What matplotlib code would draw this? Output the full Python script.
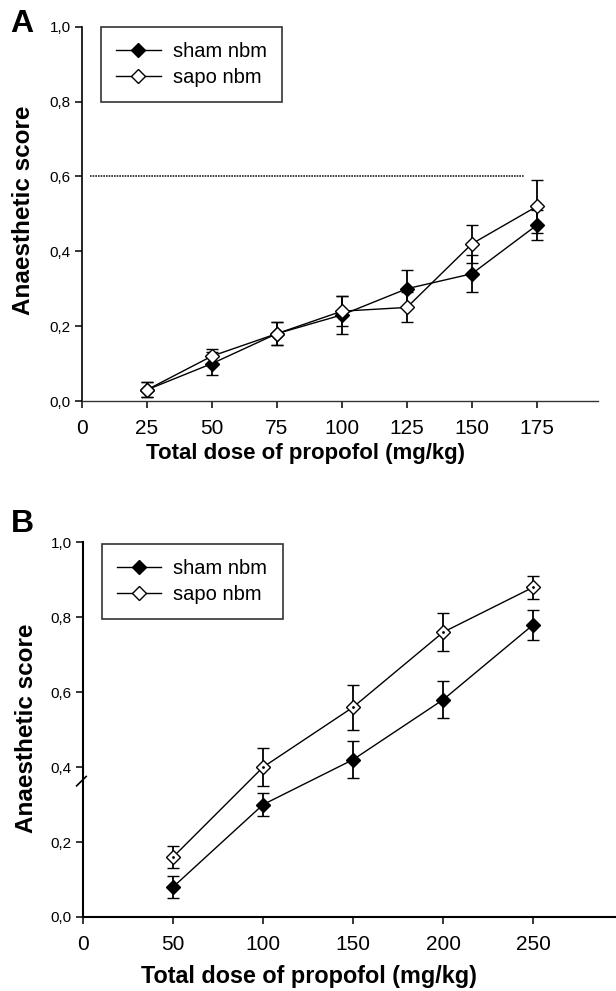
import numpy as np
import matplotlib
matplotlib.use('Agg')
import matplotlib.pyplot as plt
from matplotlib.lines import Line2D

plt.rcParams['font.family'] = ['Liberation Sans', 'DejaVu Sans']

## panel A: dose 25..175 mg/kg
dose_a = [25, 50, 75, 100, 125, 150, 175]
sham_a = [0.03, 0.10, 0.18, 0.23, 0.30, 0.34, 0.47]
sham_a_err = [0.02, 0.03, 0.03, 0.05, 0.05, 0.05, 0.04]
sapo_a = [0.03, 0.12, 0.18, 0.24, 0.25, 0.42, 0.52]
sapo_a_err = [0.02, 0.02, 0.03, 0.04, 0.04, 0.05, 0.07]
ref_level = 0.6
ref_span = [3, 170]

## panel B: dose 50..250 mg/kg
dose_b = [50, 100, 150, 200, 250]
sham_b = [0.08, 0.30, 0.42, 0.58, 0.78]
sham_b_err = [0.03, 0.03, 0.05, 0.05, 0.04]
sapo_b = [0.16, 0.40, 0.56, 0.76, 0.88]
sapo_b_err = [0.03, 0.05, 0.06, 0.05, 0.03]

xticks_a = [0, 25, 50, 75, 100, 125, 150, 175]
xticks_b = [0, 50, 100, 150, 200, 250]
yticks = [0.0, 0.2, 0.4, 0.6, 0.8, 1.0]
ytick_labels = ['0,0', '0,2', '0,4', '0,6', '0,8', '1,0']
series_names = ['sham nbm', 'sapo nbm']

W, H = 616, 991
fig = plt.figure(figsize=(W / 100, H / 100), dpi=100)

narrow = ['Liberation Sans Narrow', 'Liberation Sans', 'DejaVu Sans']


def style_axes(ax, xticks, xlim, spine_color, spine_lw):
    for s in ['top', 'right']:
        ax.spines[s].set_visible(False)
    ax.spines['left'].set_linewidth(1.2)
    ax.spines['bottom'].set_linewidth(spine_lw)
    ax.spines['bottom'].set_color(spine_color)
    ax.set_xlim(*xlim)
    ax.set_ylim(0, 1.0)
    ax.set_xticks(xticks)
    ax.set_xticklabels([str(t) for t in xticks], fontsize=15)
    ax.set_yticks(yticks)
    ax.set_yticklabels(ytick_labels, fontsize=11, family=narrow)
    ax.tick_params(axis='both', direction='out', length=5, width=1.1, color='black')
    ax.tick_params(axis='x', pad=8)
    ax.tick_params(axis='y', pad=3)
    ax.patch.set_alpha(0)


def draw_series(ax, x, y, err, filled, dot=False):
    ax.errorbar(x, y, yerr=err, fmt='-', color='black', lw=1.0,
                marker='D', ms=7.5, mfc='black' if filled else 'white',
                mec='black', mew=1.0, ecolor='black', elinewidth=1.3,
                capsize=4, capthick=1.3, clip_on=False, zorder=3 if filled else 4)
    if dot:
        ax.plot(x, y, ls='none', marker='.', ms=2, color='black', zorder=5, clip_on=False)


def add_legend(ax, anchor):
    handles = [Line2D([], [], color='black', lw=1.0, marker='D', ms=7, mfc='black', mec='black'),
               Line2D([], [], color='black', lw=1.0, marker='D', ms=7, mfc='white', mec='black')]
    leg = ax.legend(handles, series_names, loc='upper left', bbox_to_anchor=anchor,
                    borderaxespad=0, frameon=True, fancybox=False, edgecolor='black',
                    handlelength=2.2, handletextpad=0.6, borderpad=0.75,
                    labelspacing=0.35, prop={'family': narrow, 'size': 14.5})
    leg.get_frame().set_linewidth(1.2)
    return leg


## ---- panel A ----
axA = fig.add_axes([82 / W, 1 - 401 / H, 516 / W, 374.3 / H])
style_axes(axA, xticks_a, (0, 198.5), '#333333', 1.0)
axA.plot(ref_span, [ref_level, ref_level], ls=(0, (1, 0.6)), color='#222222', lw=1.2)
draw_series(axA, dose_a, sham_a, sham_a_err, True)
draw_series(axA, dose_a, sapo_a, sapo_a_err, False)
add_legend(axA, (0.037, 1.0))

fig.text(22 / W, 1 - 24 / H, 'A', fontsize=23, fontweight='bold', ha='center', va='center')
fig.text(24 / W, 1 - 210 / H, 'Anaesthetic score', rotation=90, fontsize=17.5,
         fontweight='bold', ha='center', va='center')
fig.text(305 / W, 1 - 453 / H, 'Total dose of propofol (mg/kg)', fontsize=16,
         fontweight='bold', ha='center', va='center')

## ---- panel B ----
axB = fig.add_axes([83 / W, 1 - 917 / H, 533 / W, 374.7 / H])
style_axes(axB, xticks_b, (0, 296), 'black', 1.5)
axB.spines['left'].set_linewidth(1.5)
draw_series(axB, dose_b, sham_b, sham_b_err, True)
draw_series(axB, dose_b, sapo_b, sapo_b_err, False, dot=True)
add_legend(axB, (0.0356, 0.995))
# axis break mark
axB.plot([-0.012, 0.006], [0.35, 0.375], transform=axB.transAxes, color='black',
         lw=1.2, clip_on=False)

fig.text(22 / W, 1 - 524 / H, 'B', fontsize=23, fontweight='bold', ha='center', va='center')
fig.text(27 / W, 1 - 728 / H, 'Anaesthetic score', rotation=90, fontsize=17.5,
         fontweight='bold', ha='center', va='center')
fig.text(309 / W, 1 - 977 / H, 'Total dose of propofol (mg/kg)', fontsize=16.8,
         fontweight='bold', ha='center', va='center')

fig.savefig('out.png', dpi=100)
